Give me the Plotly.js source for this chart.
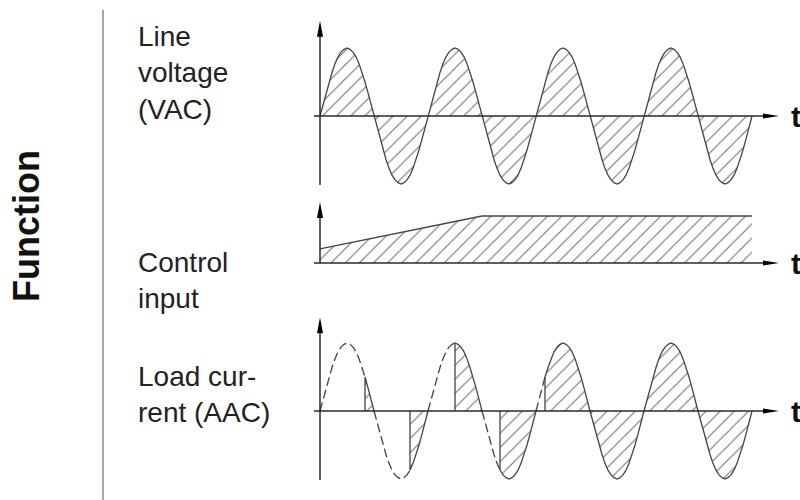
<!DOCTYPE html>
<html>
<head>
<meta charset="utf-8">
<script src="https://cdn.plot.ly/plotly-3.0.1.min.js"></script>
<style>html,body{margin:0;padding:0;background:#fff;}#chart{width:800px;height:500px;}</style>
</head>
<body>
<div id="chart"></div>
<script>
// ---- data ----
// one half-cycle of the mains waveform, sampled every 10 degrees (relative amplitude)
const halfWave = [0, 0.17, 0.34, 0.5, 0.64, 0.77, 0.87, 0.94, 0.98, 1, 0.98, 0.94, 0.87, 0.77, 0.64, 0.5, 0.34, 0.17, 0];
const halfWaveStepDeg = 10;
const halfCycles = 8;
// firing angle (degrees into each half-cycle) at which the load starts conducting
const firingAngles = [150, 120, 90, 60, 30, 0, 0, 0];
// control input ramp (time in degrees, relative level)
const controlTime = [0, 540, 1440];
const controlLevel = [0.3, 1, 1];
// texts
const sideTitle = 'Function';
const panelLabels = ['Line<br>voltage<br>(VAC)', 'Control<br>input', 'Load cur-<br>rent (AAC)'];
const timeLabel = 't';

// ---- build traces ----
const pattern = {shape: '/', size: 10, solidity: 0.1, fgcolor: '#6a6a6a', bgcolor: 'rgba(255,255,255,0)'};
const curveColor = '#444';

function sampleIdx(deg) { return Math.round(deg / halfWaveStepDeg); }

// line voltage
const vX = [], vY = [];
for (let h = 0; h < halfCycles; h++) {
  const sign = h % 2 === 0 ? 1 : -1;
  for (let i = (h === 0 ? 0 : 1); i < halfWave.length; i++) {
    vX.push(h * 180 + i * halfWaveStepDeg);
    vY.push(sign * halfWave[i]);
  }
}

// load current: dashed (blocked) part and conducting part
const dX = [], dY = [], cX = [], cY = [];
for (let h = 0; h < halfCycles; h++) {
  const sign = h % 2 === 0 ? 1 : -1;
  const f = sampleIdx(firingAngles[h]);
  if (f > 0) {
    for (let i = 0; i <= f; i++) { dX.push(h * 180 + i * halfWaveStepDeg); dY.push(sign * halfWave[i]); }
    dX.push(null); dY.push(null);
  }
  cX.push(h * 180 + f * halfWaveStepDeg); cY.push(0);
  for (let i = f; i < halfWave.length; i++) { cX.push(h * 180 + i * halfWaveStepDeg); cY.push(sign * halfWave[i]); }
  cX.push(null); cY.push(null);
}

const traces = [
  {x: vX, y: vY, yaxis: 'y', mode: 'lines', line: {color: curveColor, width: 1.3},
   fill: 'tozeroy', fillcolor: 'rgba(0,0,0,0)', fillpattern: pattern, hoverinfo: 'skip'},
  {x: controlTime, y: controlLevel, yaxis: 'y2', mode: 'lines', line: {color: curveColor, width: 1.3},
   fill: 'tozeroy', fillcolor: 'rgba(0,0,0,0)', fillpattern: pattern, hoverinfo: 'skip'},
  {x: cX, y: cY, yaxis: 'y3', mode: 'lines', line: {color: curveColor, width: 1.3},
   fill: 'toself', fillcolor: 'rgba(0,0,0,0)', fillpattern: pattern, hoverinfo: 'skip'},
  {x: dX, y: dY, yaxis: 'y3', mode: 'lines', line: {color: curveColor, width: 1.3, dash: '9px,4px'}, hoverinfo: 'skip'}
];

// ---- axes drawn as arrows (panel geometry) ----
const panels = [
  {yref: 'y',  bottom: -1.015, top: 1.40, ppu: 68},
  {yref: 'y2', bottom: 0,      top: 1.30, ppu: 47},
  {yref: 'y3', bottom: -1.015, top: 1.38, ppu: 68}
];
const pxPerDeg = 0.3;
const xStart = -20, xTip = 1530;
const axisColor = '#2a2a2a';
const shapes = [];
panels.forEach(p => {
  const headLen = 16, halfW = 3;
  shapes.push({type: 'line', xref: 'x', yref: p.yref, x0: xStart, x1: xTip - headLen / pxPerDeg, y0: 0, y1: 0,
    line: {color: axisColor, width: 1.5}});
  shapes.push({type: 'path', xref: 'x', yref: p.yref,
    path: `M${xTip},0 L${xTip - headLen / pxPerDeg},${2.6 / p.ppu} L${xTip - headLen / pxPerDeg},${-2.6 / p.ppu} Z`,
    fillcolor: '#000', line: {width: 0}});
  shapes.push({type: 'line', xref: 'x', yref: p.yref, x0: 0, x1: 0, y0: p.bottom, y1: p.top - headLen / p.ppu,
    line: {color: axisColor, width: 1.5}});
  shapes.push({type: 'path', xref: 'x', yref: p.yref,
    path: `M0,${p.top} L${-halfW / pxPerDeg},${p.top - headLen / p.ppu} L${halfW / pxPerDeg},${p.top - headLen / p.ppu} Z`,
    fillcolor: '#000', line: {width: 0}});
});
// separator line
shapes.push({type: 'line', xref: 'paper', yref: 'paper', x0: 103 / 800, x1: 103 / 800, y0: 0, y1: 1 - 10 / 500,
  line: {color: '#8a8a8a', width: 1.5}});

const font = 'Liberation Sans, Arial, Helvetica, sans-serif';
const labelFont = {family: font, size: 28, color: '#222'};
const annotations = [
  {text: sideTitle, xref: 'paper', yref: 'paper', x: 27 / 800, y: 1 - 226 / 500, textangle: -90,
   showarrow: false, xanchor: 'center', yanchor: 'middle', font: {family: font, size: 36, color: '#111', weight: 700}},
  {text: panelLabels[0], xref: 'paper', yref: 'paper', x: 136 / 800, y: 1 - 73 / 500, align: 'left',
   showarrow: false, xanchor: 'left', yanchor: 'middle', font: labelFont},
  {text: panelLabels[1], xref: 'paper', yref: 'paper', x: 136 / 800, y: 1 - 280 / 500, align: 'left',
   showarrow: false, xanchor: 'left', yanchor: 'middle', font: labelFont},
  {text: panelLabels[2], xref: 'paper', yref: 'paper', x: 136 / 800, y: 1 - 394 / 500, align: 'left',
   showarrow: false, xanchor: 'left', yanchor: 'middle', font: labelFont}
];
panels.forEach(p => {
  annotations.push({text: timeLabel, xref: 'paper', yref: p.yref, x: 789 / 800, y: 0, showarrow: false,
    xanchor: 'left', yanchor: 'middle', font: {family: font, size: 30, color: '#111', weight: 700}});
});

const layout = {
  width: 800, height: 500,
  margin: {l: 0, r: 0, t: 0, b: 0},
  paper_bgcolor: '#fff', plot_bgcolor: '#fff',
  showlegend: false,
  xaxis: {range: [-320 / pxPerDeg, 480 / pxPerDeg], visible: false, fixedrange: true},
  yaxis: {range: [(116 - 500) / 68, 116 / 68], visible: false, fixedrange: true},
  yaxis2: {range: [(263 - 500) / 47, 263 / 47], overlaying: 'y', visible: false, fixedrange: true},
  yaxis3: {range: [(411 - 500) / 68, 411 / 68], overlaying: 'y', visible: false, fixedrange: true},
  shapes: shapes,
  annotations: annotations
};

Plotly.newPlot('chart', traces, layout, {displayModeBar: false, staticPlot: true});
</script>
</body>
</html>
